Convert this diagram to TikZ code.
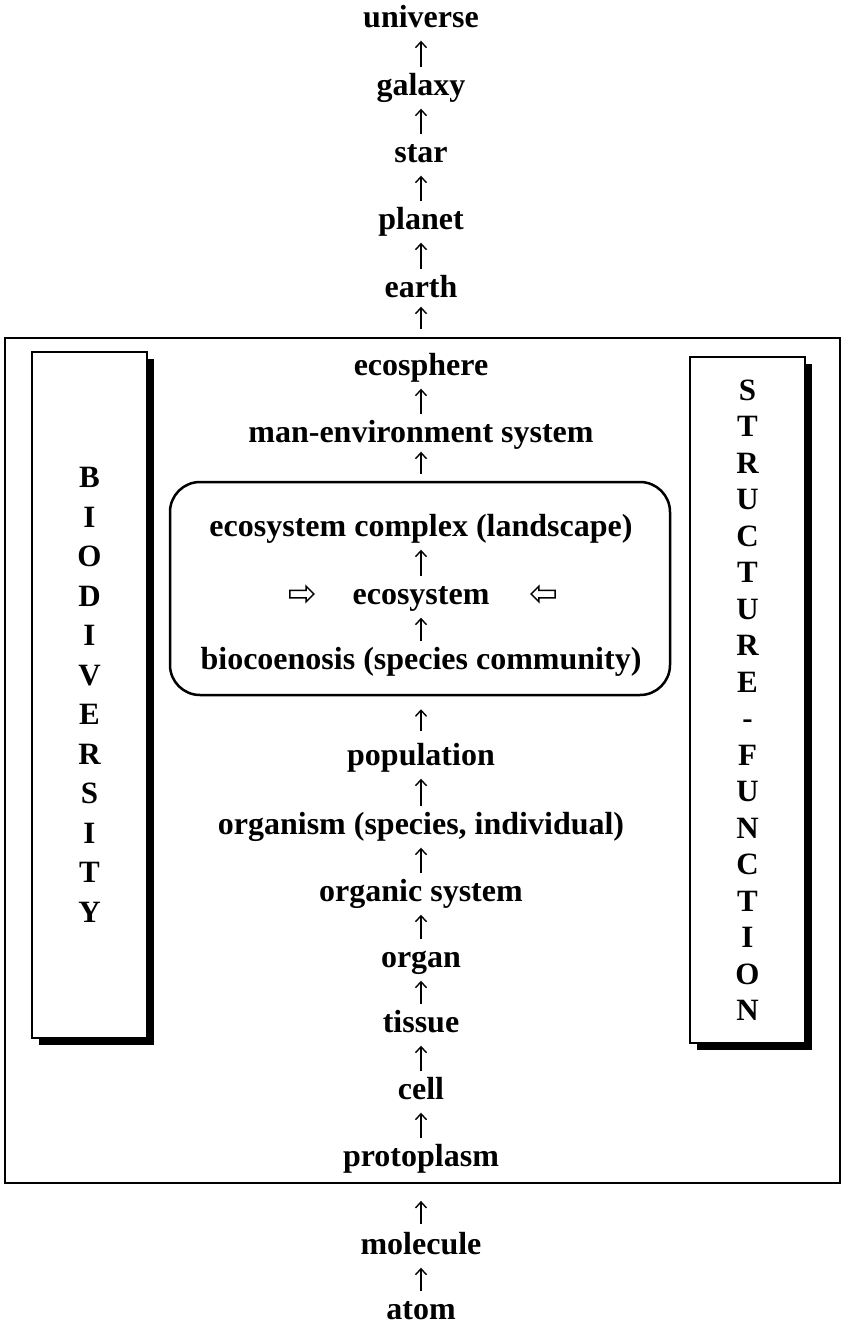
\documentclass[tikz,border=0pt]{standalone}
\usepackage{fontspec}
\setmainfont{Liberation Serif}
\usetikzlibrary{arrows.meta, shapes.arrows, shadows}

\tikzset{
  tier/.style={font=\bfseries\fontsize{32}{36}\selectfont, inner sep=0pt, text height=22pt, text depth=7pt},
  up/.style={-{Straight Barb[length=6pt, width=11pt]}, line width=1.4pt, shorten <=6pt, shorten >=6pt},
  sidebox/.style={draw, line width=1.6pt, fill=white, minimum width=115pt, minimum height=686pt, align=center,
    font=\bfseries\fontsize{31}{#1}\selectfont,
    drop shadow={shadow xshift=7pt, shadow yshift=-7pt, fill=black, opacity=1}},
  inarrow/.style={single arrow, draw, line width=1.5pt, minimum height=24pt, single arrow head extend=4pt, inner sep=3pt}
}

\begin{document}
\begin{tikzpicture}[x=1pt, y=-1pt]
        \useasboundingbox (0,0) rectangle (842,1325);

        % Frames
        \node[draw, line width=1.8pt, minimum width=835pt, minimum height=845pt] (frame) at (422.5,760.5) {};
        \node[draw, line width=2.5pt, rounded corners=30pt, minimum width=500pt, minimum height=213pt] (ecobox) at (420,588.5) {};

        % Side boxes
        \node[sidebox=39.5] (biodiv) at (89.5,695) {B\\I\\O\\D\\I\\V\\E\\R\\S\\I\\T\\Y};
        \node[sidebox=36.5] (strfun) at (747.5,700) {S\\T\\R\\U\\C\\T\\U\\R\\E\\-\\F\\U\\N\\C\\T\\I\\O\\N};

        % Levels
        \foreach \n/\y/\t in {universe/20/universe, galaxy/88/galaxy, star/155/star, planet/222/planet,
            earth/290/earth, ecosphere/368/ecosphere, manenv/435/man-environment system,
            complex/529/ecosystem complex (landscape), ecosystem/597/ecosystem,
            biocoenosis/662/biocoenosis (species community), population/758/population,
            organism/827/{organism (species, individual)}, organic/894/organic system,
            organ/960/organ, tissue/1025/tissue, cell/1092/cell, protoplasm/1159/protoplasm,
            molecule/1247/molecule, atom/1312/atom} {
            \node[tier] (\n) at (421,\y) {\t};
        }

        % Upward arrows
        \foreach \a/\b in {galaxy/universe, star/galaxy, planet/star, earth/planet, manenv/ecosphere,
            ecosystem/complex, biocoenosis/ecosystem, organism/population, organic/organism,
            organ/organic, tissue/organ, cell/tissue, protoplasm/cell, atom/molecule} {
            \draw[up] (\a) -- (\b);
        }
        \draw[up, shorten <=8pt, shorten >=2pt] (earth |- frame.north) -- (earth);
        \draw[up, shorten <=7pt, shorten >=2pt] (manenv |- ecobox.north) -- (manenv);
        \draw[up, shorten <=12pt, shorten >=13pt] (population) -- (population |- ecobox.south);
        \draw[up, shorten <=8pt, shorten >=17pt] (molecule) -- (molecule |- frame.south);

        % Inputs to the ecosystem
        \node[inarrow] (inleft) at (300,594) {};
        \node[inarrow, shape border rotate=180] (inright) at (545,594) {};

    \end{tikzpicture}
\end{document}
